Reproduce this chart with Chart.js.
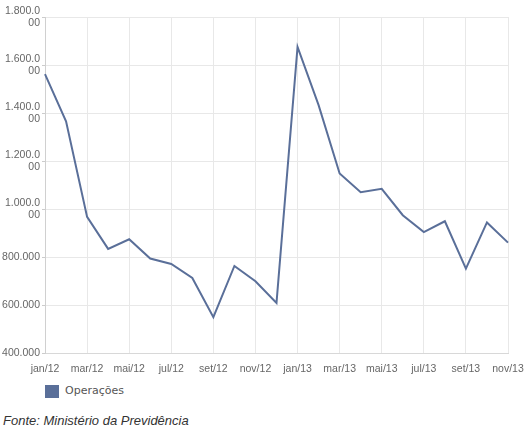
<!DOCTYPE html>
<html>
<head>
<meta charset="utf-8">
<script src="https://cdn.jsdelivr.net/npm/chart.js@4"></script>
<style>
  body { margin: 0; background: #fff; font-family: "Liberation Sans", Arial, sans-serif; }
  #wrap { position: relative; width: 526px; height: 384px; }
  #legend { position: absolute; left: 45px; top: 384px; font-size: 11px; color: #555; font-family: "DejaVu Sans", sans-serif; }
  #legend span.box { display: inline-block; width: 14px; height: 13px; background: #5a6f99; vertical-align: middle; margin-right: 6px; }
  #fonte { position: absolute; left: 3px; top: 413px; font-size: 13px; font-style: italic; color: #333; }
</style>
</head>
<body>
<div id="wrap"><canvas id="Chart"></canvas></div>
<div id="legend"><span class="box"></span><span>Operações</span></div>
<div id="fonte">Fonte: Ministério da Previdência</div>
<script>
var months = ["jan/12", "fev/12", "mar/12", "abr/12", "mai/12", "jun/12", "jul/12", "ago/12", "set/12", "out/12", "nov/12", "dez/12",
              "jan/13", "fev/13", "mar/13", "abr/13", "mai/13", "jun/13", "jul/13", "ago/13", "set/13", "out/13", "nov/13"];
var operacoes = [1562000, 1366000, 968000, 835000, 875000, 795000, 772000, 714000, 551000, 764000, 700000, 610000,
                 1676000, 1433000, 1149000, 1071000, 1085000, 975000, 905000, 950000, 753000, 945000, 861000];
var yTicks = [400000, 600000, 800000, 1000000, 1200000, 1400000, 1600000, 1800000];

function fmt(v) {
    var s = String(v).replace(/\B(?=(\d{3})+(?!\d))/g, ".");
    // long labels get wrapped like in the original
    if (s.length > 7) return [s.slice(0, 7), s.slice(7)];
    return s;
}

new Chart("Chart", {
    type: "line",
    data: {
        labels: months,
        datasets: [{
            label: "Operações",
            data: operacoes,
            borderColor: "#5a6f99",
            backgroundColor: "#5a6f99",
            borderWidth: 2,
            pointRadius: 0,
            tension: 0
        }]
    },
    options: {
        responsive: true,
        maintainAspectRatio: false,
        animation: false,
        layout: { padding: { top: 17, right: 18, left: 0, bottom: 0 } },
        plugins: {
            legend: { display: false },
            tooltip: { enabled: false }
        },
        scales: {
            x: {
                afterFit: function (s) { s.paddingLeft = 0; s.paddingRight = 0; },
                grid: {
                    color: function (ctx) { return ctx.index % 2 ? "transparent" : "#e8e8e8"; },
                    drawTicks: false
                },
                border: { color: "#d8d8d8" },
                ticks: {
                    autoSkip: false,
                    maxRotation: 0,
                    color: "#666",
                    font: { family: "Liberation Sans", size: 10.5 },
                    padding: 9,
                    callback: function (v, i) { return i % 2 ? "" : months[i]; }
                }
            },
            y: {
                min: 400000,
                max: 1800000,
                afterBuildTicks: function (s) { s.ticks = yTicks.map(function (v) { return { value: v }; }); },
                afterFit: function (s) { s.width = 45; s.paddingTop = 0; s.paddingBottom = 0; },
                grid: { color: "#e8e8e8", tickLength: 3, tickColor: "#ccc" },
                border: { color: "#d0d0d0" },
                ticks: {
                    color: "#666",
                    padding: 2,
                    font: { family: "Liberation Sans", size: 10.5 },
                    callback: function (v) { return fmt(v); }
                }
            }
        }
    }
});
</script>
</body>
</html>
